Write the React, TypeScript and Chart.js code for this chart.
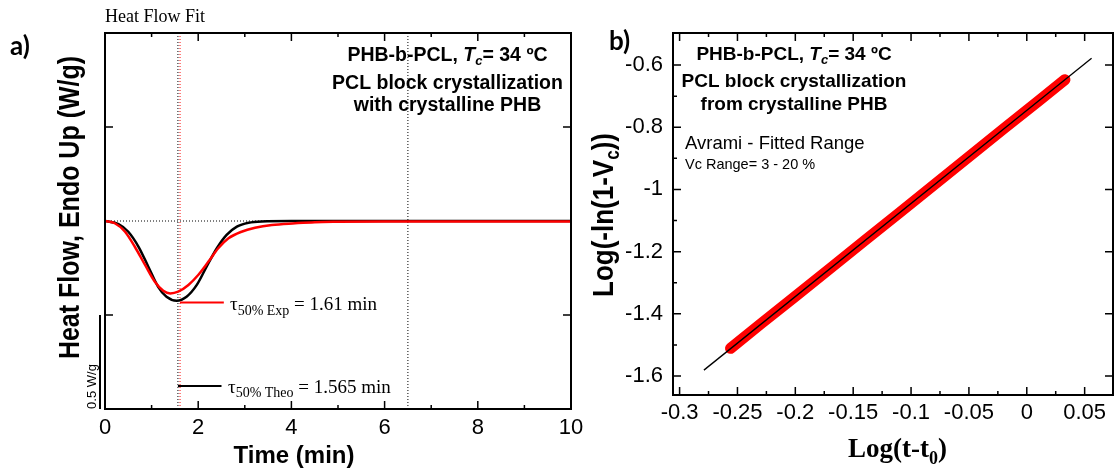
import React, { useEffect, useRef } from 'react';
import { Chart, registerables } from 'chart.js';

Chart.register(...registerables);

const W = 1117;
const H = 473;
const SANS = '"Liberation Sans", Arial, sans-serif';
const SERIF = '"Liberation Serif", "Times New Roman", serif';
const LABEL = 'Lato, "Open Sans", sans-serif';

// ---------- Panel a) : heat flow (W/g) vs time (min) ----------
const timeTheo = [0, 0.29, 0.5, 0.72, 0.93, 1.14, 1.32, 1.54, 1.75, 1.97, 2.18, 2.4, 2.61, 2.83, 3.08, 3.36, 4, 5, 6, 7, 8, 9, 10];
const heatTheo = [0, -0.016, -0.057, -0.137, -0.243, -0.35, -0.403, -0.424, -0.403, -0.34, -0.243, -0.145, -0.074, -0.03, -0.009, -0.002, 0, 0, 0, 0, 0, 0, 0];
const timeExp = [0, 0.21, 0.43, 0.64, 0.86, 1.07, 1.25, 1.4, 1.57, 1.79, 2.0, 2.22, 2.43, 2.65, 2.93, 3.22, 3.58, 4.08, 4.5, 5, 6, 7, 8, 9, 10];
const heatExp = [0, -0.012, -0.057, -0.137, -0.234, -0.323, -0.371, -0.385, -0.376, -0.34, -0.287, -0.216, -0.145, -0.092, -0.057, -0.036, -0.021, -0.012, -0.006, -0.004, -0.003, -0.003, -0.002, -0.002, -0.002];

const xTicksA = [0, 2, 4, 6, 8, 10];
const xMinorA = [1, 3, 5, 7, 9];
const yTicksA = [-0.5, 0.5];
const tau50Exp = 1.61;
const tau50Theo = 1.565;
const tauRightLine = 6.5;
const annoExp = { x0: 1.61, x1: 2.55, y: -0.434 };
const annoTheo = { x0: 1.565, x1: 2.5, y: -0.878 };
const scaleBar = { top: -0.5, bottom: -1 };

// ---------- Panel b) : Avrami plot ----------
const logTimeExp = [-0.256, -0.23, -0.2, -0.17, -0.14, -0.11, -0.08, -0.05, -0.02, 0.01, 0.033];
const logLnExp = [-1.511, -1.433, -1.344, -1.254, -1.164, -1.075, -0.985, -0.895, -0.805, -0.716, -0.647];
const logTimeFit = [-0.279, 0.056];
const logLnFit = [-1.581, -0.578];

const xTicksB = [-0.3, -0.25, -0.2, -0.15, -0.1, -0.05, 0, 0.05];
const xMinorB = [-0.275, -0.225, -0.175, -0.125, -0.075, -0.025, 0.025];
const yTicksB = [-0.6, -0.8, -1, -1.2, -1.4, -1.6];
const yMinorB = [-0.7, -0.9, -1.1, -1.3, -1.5];

type Seg = { t: string; font: string; dy?: number };

function drawRich(ctx: CanvasRenderingContext2D, segs: Seg[], x: number, y: number, align: 'left' | 'center') {
  let total = 0;
  for (const s of segs) {
    ctx.font = s.font;
    total += ctx.measureText(s.t).width;
  }
  let cx = align === 'center' ? x - total / 2 : x;
  ctx.textAlign = 'left';
  ctx.textBaseline = 'alphabetic';
  for (const s of segs) {
    ctx.font = s.font;
    ctx.fillText(s.t, cx, y + (s.dy || 0));
    cx += ctx.measureText(s.t).width;
  }
}

function frameAndTicks(chart: any, xMajor: number[], xMinor: number[], yMajor: number[], yMinor: number[], mirrorYMinor: boolean) {
  const ctx: CanvasRenderingContext2D = chart.ctx;
  const { left, right, top, bottom } = chart.chartArea;
  const xs = chart.scales.x;
  const ys = chart.scales.y;
  ctx.save();
  ctx.strokeStyle = '#000';
  ctx.lineWidth = 1.5;
  ctx.beginPath();
  const vx = (v: number, len: number) => {
    const p = xs.getPixelForValue(v);
    ctx.moveTo(p, bottom);
    ctx.lineTo(p, bottom - len);
    ctx.moveTo(p, top);
    ctx.lineTo(p, top + len);
  };
  const hy = (v: number, len: number, both: boolean) => {
    const p = ys.getPixelForValue(v);
    ctx.moveTo(left, p);
    ctx.lineTo(left + len, p);
    if (both) {
      ctx.moveTo(right, p);
      ctx.lineTo(right - len, p);
    }
  };
  xMajor.forEach((v) => vx(v, 8));
  xMinor.forEach((v) => vx(v, 4));
  yMajor.forEach((v) => hy(v, 8, true));
  yMinor.forEach((v) => hy(v, 4, mirrorYMinor));
  ctx.stroke();
  ctx.lineWidth = 2;
  ctx.strokeRect(left, top, right - left, bottom - top);
  ctx.restore();
}

const panelAPlugin = {
  id: 'panelA',
  beforeDatasetsDraw(chart: any) {
    const ctx: CanvasRenderingContext2D = chart.ctx;
    const { left, right, top, bottom } = chart.chartArea;
    const xs = chart.scales.x;
    const ys = chart.scales.y;
    ctx.save();
    ctx.lineWidth = 1;
    ctx.setLineDash([1, 2]);
    // horizontal baseline
    ctx.strokeStyle = '#000';
    ctx.beginPath();
    const y0 = ys.getPixelForValue(0);
    ctx.moveTo(left, y0);
    ctx.lineTo(right, y0);
    ctx.stroke();
    // vertical dotted lines
    const vline = (v: number, color: string) => {
      const p = xs.getPixelForValue(v);
      ctx.strokeStyle = color;
      ctx.beginPath();
      ctx.moveTo(p, top);
      ctx.lineTo(p, bottom);
      ctx.stroke();
    };
    vline(tau50Theo, '#000');
    vline(tau50Exp, '#ff0000');
    vline(tauRightLine, '#000');
    ctx.restore();
  },
  afterDraw(chart: any) {
    const ctx: CanvasRenderingContext2D = chart.ctx;
    const xs = chart.scales.x;
    const ys = chart.scales.y;
    const { left, top, bottom } = chart.chartArea;
    frameAndTicks(chart, xTicksA, xMinorA, yTicksA, [], true);

    ctx.save();
    // annotation lines
    ctx.lineWidth = 2;
    ctx.strokeStyle = '#ff0000';
    ctx.beginPath();
    ctx.moveTo(xs.getPixelForValue(annoExp.x0), ys.getPixelForValue(annoExp.y));
    ctx.lineTo(xs.getPixelForValue(annoExp.x1), ys.getPixelForValue(annoExp.y));
    ctx.stroke();
    ctx.strokeStyle = '#000';
    ctx.beginPath();
    ctx.moveTo(xs.getPixelForValue(annoTheo.x0), ys.getPixelForValue(annoTheo.y));
    ctx.lineTo(xs.getPixelForValue(annoTheo.x1), ys.getPixelForValue(annoTheo.y));
    ctx.stroke();

    // scale bar
    ctx.lineWidth = 2;
    ctx.beginPath();
    ctx.moveTo(left - 5, ys.getPixelForValue(scaleBar.top));
    ctx.lineTo(left - 5, ys.getPixelForValue(scaleBar.bottom));
    ctx.stroke();

    ctx.fillStyle = '#000';
    // tau labels
    drawRich(ctx, [
      { t: 'τ', font: `19px ${SERIF}` },
      { t: '50% Exp', font: `14px ${SERIF}`, dy: 4.5 },
      { t: ' = 1.61 min', font: `19px ${SERIF}` },
    ], 230, 310, 'left');
    drawRich(ctx, [
      { t: 'τ', font: `19px ${SERIF}` },
      { t: '50% Theo', font: `14px ${SERIF}`, dy: 4.5 },
      { t: ' = 1.565 min', font: `19px ${SERIF}` },
    ], 228, 392.5, 'left');

    // text box
    const B = `bold 19.5px ${SANS}`;
    drawRich(ctx, [
      { t: 'PHB-b-PCL, ', font: B },
      { t: 'T', font: `italic bold 19.5px ${SANS}` },
      { t: 'c', font: `italic bold 13px ${SANS}`, dy: 4 },
      { t: '= 34 ºC', font: B },
    ], 447.5, 61, 'center');
    drawRich(ctx, [{ t: 'PCL block crystallization', font: B }], 447.5, 89, 'center');
    drawRich(ctx, [{ t: 'with crystalline PHB', font: B }], 447.5, 111, 'center');

    // header + panel label
    drawRich(ctx, [{ t: 'Heat Flow Fit', font: `18px ${SERIF}` }], 105, 22, 'left');
    drawRich(ctx, [{ t: 'a)', font: `bold 26px ${LABEL}` }], 10, 55, 'left');

    // x title
    drawRich(ctx, [{ t: 'Time (min)', font: `bold 24px ${SANS}` }], 294, 463, 'center');

    // y title
    ctx.save();
    ctx.translate(79, 207.5);
    ctx.rotate(-Math.PI / 2);
    ctx.scale(1, 1.2);
    drawRich(ctx, [{ t: 'Heat Flow, Endo Up (W/g)', font: `bold 25px ${SANS}` }], 0, 0, 'center');
    ctx.restore();

    // scale bar label
    ctx.save();
    ctx.translate(96, 386.5);
    ctx.rotate(-Math.PI / 2);
    drawRich(ctx, [{ t: '0.5 W/g', font: `13px ${SANS}` }], 0, 0, 'center');
    ctx.restore();
    ctx.restore();
  },
};

const panelBPlugin = {
  id: 'panelB',
  afterDraw(chart: any) {
    const ctx: CanvasRenderingContext2D = chart.ctx;
    frameAndTicks(chart, xTicksB, xMinorB, yTicksB, yMinorB, false);
    ctx.save();
    ctx.fillStyle = '#000';
    const B = `bold 19px ${SANS}`;
    drawRich(ctx, [
      { t: 'PHB-b-PCL, ', font: B },
      { t: 'T', font: `italic bold 19px ${SANS}` },
      { t: 'c', font: `italic bold 13px ${SANS}`, dy: 4 },
      { t: '= 34 ºC', font: B },
    ], 794, 59.5, 'center');
    drawRich(ctx, [{ t: 'PCL block crystallization', font: B }], 794, 87, 'center');
    drawRich(ctx, [{ t: 'from crystalline PHB', font: B }], 794, 110, 'center');
    drawRich(ctx, [{ t: 'Avrami - Fitted Range', font: `18.5px ${SANS}` }], 685, 148.5, 'left');
    drawRich(ctx, [{ t: 'Vc Range= 3 - 20 %', font: `14.5px ${SANS}` }], 685, 168.5, 'left');
    drawRich(ctx, [{ t: 'b)', font: `bold 26px ${LABEL}` }], 609, 50, 'left');

    // x title
    drawRich(ctx, [
      { t: 'Log(t-t', font: `bold 27px ${SERIF}` },
      { t: '0', font: `bold 18px ${SERIF}`, dy: 7 },
      { t: ')', font: `bold 27px ${SERIF}` },
    ], 897.5, 457, 'center');

    // y title
    ctx.save();
    ctx.translate(613, 215);
    ctx.rotate(-Math.PI / 2);
    ctx.scale(1, 1.17);
    drawRich(ctx, [
      { t: 'Log(-ln(1-V', font: `bold 26px ${SANS}` },
      { t: 'c', font: `bold 17px ${SANS}`, dy: 5 },
      { t: '))', font: `bold 26px ${SANS}` },
    ], 0, 0, 'center');
    ctx.restore();
    ctx.restore();
  },
};

const tickFont = { family: SANS, size: 22 };

export default function App() {
  const refA = useRef<HTMLCanvasElement | null>(null);
  const refB = useRef<HTMLCanvasElement | null>(null);

  useEffect(() => {
    document.body.style.margin = '0';
    const chartA = new Chart(refA.current as HTMLCanvasElement, {
      type: 'line',
      data: {
        datasets: [
          {
            label: 'Theoretical',
            data: timeTheo.map((t, i) => ({ x: t, y: heatTheo[i] })),
            borderColor: '#000000',
            borderWidth: 2.5,
            pointRadius: 0,
            cubicInterpolationMode: 'monotone',
            order: 2,
          },
          {
            label: 'Experimental',
            data: timeExp.map((t, i) => ({ x: t, y: heatExp[i] })),
            borderColor: '#ff0000',
            borderWidth: 2.5,
            pointRadius: 0,
            cubicInterpolationMode: 'monotone',
            order: 1,
          },
        ],
      },
      options: {
        responsive: false,
        animation: false,
        devicePixelRatio: 1,
        layout: { padding: { left: 105, top: 33, right: W - 571, bottom: 0 } },
        plugins: { legend: { display: false }, tooltip: { enabled: false } },
        scales: {
          x: {
            type: 'linear',
            min: 0,
            max: 10,
            grid: { display: false, drawTicks: false },
            border: { display: false },
            ticks: { font: tickFont, color: '#000', padding: 6, maxRotation: 0, autoSkip: false, callback: (v: any) => String(v) },
            afterBuildTicks: (s: any) => { s.ticks = xTicksA.map((v) => ({ value: v })); },
            afterFit: (s: any) => { s.height = H - 409; },
          },
          y: { type: 'linear', min: -1, max: 1, display: false },
        },
      },
      plugins: [panelAPlugin],
    } as any);

    const chartB = new Chart(refB.current as HTMLCanvasElement, {
      type: 'line',
      data: {
        datasets: [
          {
            label: 'Avrami fit',
            data: logTimeFit.map((t, i) => ({ x: t, y: logLnFit[i] })),
            borderColor: '#000000',
            borderWidth: 1.3,
            pointRadius: 0,
            order: 1,
          },
          {
            label: 'Experimental',
            data: logTimeExp.map((t, i) => ({ x: t, y: logLnExp[i] })),
            borderColor: '#ff0000',
            borderWidth: 11,
            borderCapStyle: 'round',
            pointRadius: 0,
            order: 2,
          },
        ],
      },
      options: {
        responsive: false,
        animation: false,
        devicePixelRatio: 1,
        layout: { padding: { left: 600, top: 33, right: 4, bottom: 0 } },
        plugins: { legend: { display: false }, tooltip: { enabled: false } },
        scales: {
          x: {
            type: 'linear',
            min: -0.3057,
            max: 0.0745,
            grid: { display: false, drawTicks: false },
            border: { display: false },
            ticks: { font: tickFont, color: '#000', padding: 5, maxRotation: 0, autoSkip: false, callback: (v: any) => String(v) },
            afterBuildTicks: (s: any) => { s.ticks = xTicksB.map((v) => ({ value: v })); },
            afterFit: (s: any) => { s.height = H - 395; },
          },
          y: {
            type: 'linear',
            min: -1.661,
            max: -0.497,
            grid: { display: false, drawTicks: false },
            border: { display: false },
            ticks: { font: tickFont, color: '#000', padding: 10, autoSkip: false, callback: (v: any) => String(v) },
            afterBuildTicks: (s: any) => { s.ticks = yTicksB.map((v) => ({ value: v })); },
            afterFit: (s: any) => { s.width = 73; },
          },
        },
      },
      plugins: [panelBPlugin],
    } as any);

    return () => {
      chartA.destroy();
      chartB.destroy();
    };
  }, []);

  return (
    <div style={{ position: 'absolute', left: 0, top: 0, width: W, height: H, background: '#fff' }}>
      <canvas ref={refA} width={W} height={H} style={{ position: 'absolute', left: 0, top: 0 }} />
      <canvas ref={refB} width={W} height={H} style={{ position: 'absolute', left: 0, top: 0 }} />
    </div>
  );
}
